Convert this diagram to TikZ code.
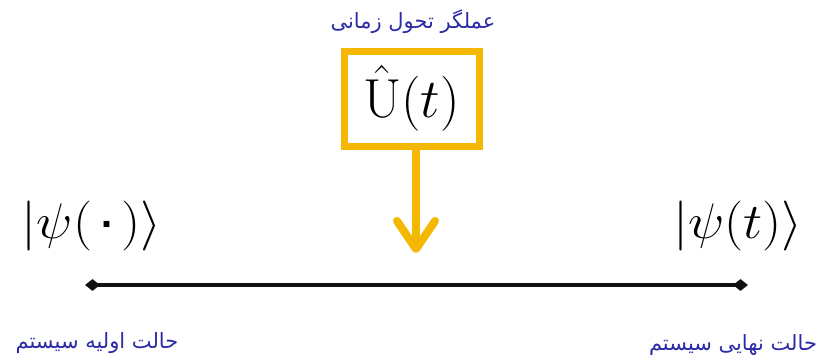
\RequirePackage{fix-cm}
\documentclass[tikz,border=0pt]{standalone}
\usepackage{fontspec}
\newfontfamily\arabicfont[Script=Arabic]{DejaVu Sans}
\TeXXeTstate=1
\usetikzlibrary{arrows.meta,shapes.geometric,shadows}
\definecolor{qmyellow}{HTML}{F5B800}
\definecolor{qmblue}{HTML}{2B2BA8}
\definecolor{qmink}{HTML}{111111}
\tikzset{
  fa/.style={font=\arabicfont\fontsize{21}{24}\selectfont, text=qmblue, inner sep=0pt},
  ket/.style={font=\fontsize{50}{52}\selectfont, inner sep=0pt, anchor=base, xscale=1.08},
  op/.style={draw=qmyellow, line width=7pt, fill=white, minimum width=135pt, minimum height=95pt, inner sep=0pt,
    font=\fontsize{55}{57}\selectfont, drop shadow={opacity=0.25, shadow xshift=2pt, shadow yshift=-3pt}},
  ends/.style={diamond, aspect=1.25, fill=qmink, minimum width=15pt, minimum height=12pt, inner sep=0pt},
  arr/.style={-{Straight Barb[round, length=28pt, width=38pt]}, line width=8pt, color=qmyellow},
  axis/.style={line width=4.5pt, color=qmink},
}

\begin{document}
\begin{tikzpicture}[x=1pt,y=-1pt]
  \useasboundingbox (0,0) rectangle (825,362);
  \node[fa] (title) at (413,22) {\beginR عملگر تحول زمانی\endR};
  \node[op] (U) at (411.5,98.5) {$\hat{\mathrm{U}}(t)$};
  \coordinate (hit) at (416,253);
  \draw[arr] (U.south -| hit) -- (hit);
  % time axis
  \node[ends] (s0) at (92.5,285) {};
  \node[ends] (st) at (740.5,285) {};
  \draw[axis] (s0.center) -- (st.center);
  \node[ket] (psi0) at (91.5,238) {$|\psi(\mbox{\arabicfont ۰})\rangle$};
  \node[ket] (psit) at (738,238) {$|\psi(t)\rangle$};
  \node[fa] (lab0) at (97,343) {\beginR حالت اولیه سیستم\endR};
  \node[fa] (labt) at (733,345) {\beginR حالت نهایی سیستم\endR};
\end{tikzpicture}
\end{document}
